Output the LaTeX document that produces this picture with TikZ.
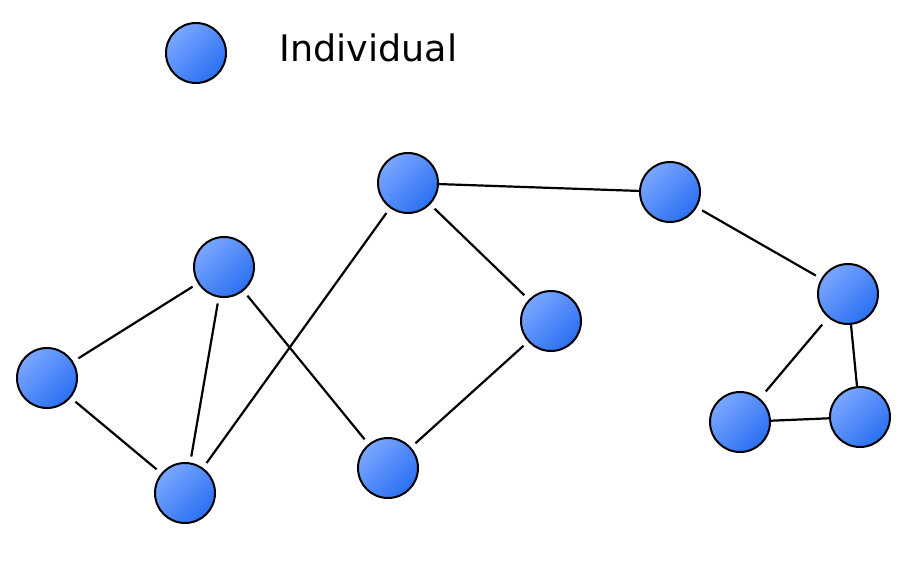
\documentclass[tikz,border=0pt]{standalone}
\usepackage{fontspec}
\setmainfont{DejaVu Sans}
\definecolor{nlight}{HTML}{7AA6FF}
\definecolor{ndark}{HTML}{2A70F2}
\begin{document}
\begin{tikzpicture}[x=1pt,y=-1pt,
  indiv/.style={circle, minimum size=60pt, inner sep=0pt, draw=black, line width=2pt,
    top color=nlight, bottom color=ndark, shading angle=45},
  link/.style={line width=2.2pt, black},
  gap/.style={shorten >=6pt, shorten <=6pt}]
\useasboundingbox[fill=white] (0,0) rectangle (900,560);
\node[indiv] (L) at (196,53) {};
\node[anchor=west, font=\fontsize{36.5}{40}\selectfont] (LT) at (276,48) {Individual};
\node[indiv] (A) at (408,183) {};
\node[indiv] (B) at (670,192) {};
\node[indiv] (C) at (848,294) {};
\node[indiv] (D) at (551,321) {};
\node[indiv] (E) at (224,267) {};
\node[indiv] (F) at (47,378) {};
\node[indiv] (G) at (185,493) {};
\node[indiv] (H) at (388,468) {};
\node[indiv] (I) at (740,422) {};
\node[indiv] (J) at (860,417) {};
\draw[link] (A) -- (B);
\draw[link, gap] (B) -- (C);
\draw[link] (C) -- (J);
\draw[link, shorten >=9pt, shorten <=9pt] (C) -- (I);
\draw[link] (I) -- (J);
\draw[link, gap] (A) -- (D);
\draw[link, gap] (D) -- (H);
\draw[link, gap] (A) -- (G);
\draw[link, gap] (E) -- (H);
\draw[link, gap] (E) -- (F);
\draw[link, gap] (E) -- (G);
\draw[link, gap] (F) -- (G);
\end{tikzpicture}
\end{document}
